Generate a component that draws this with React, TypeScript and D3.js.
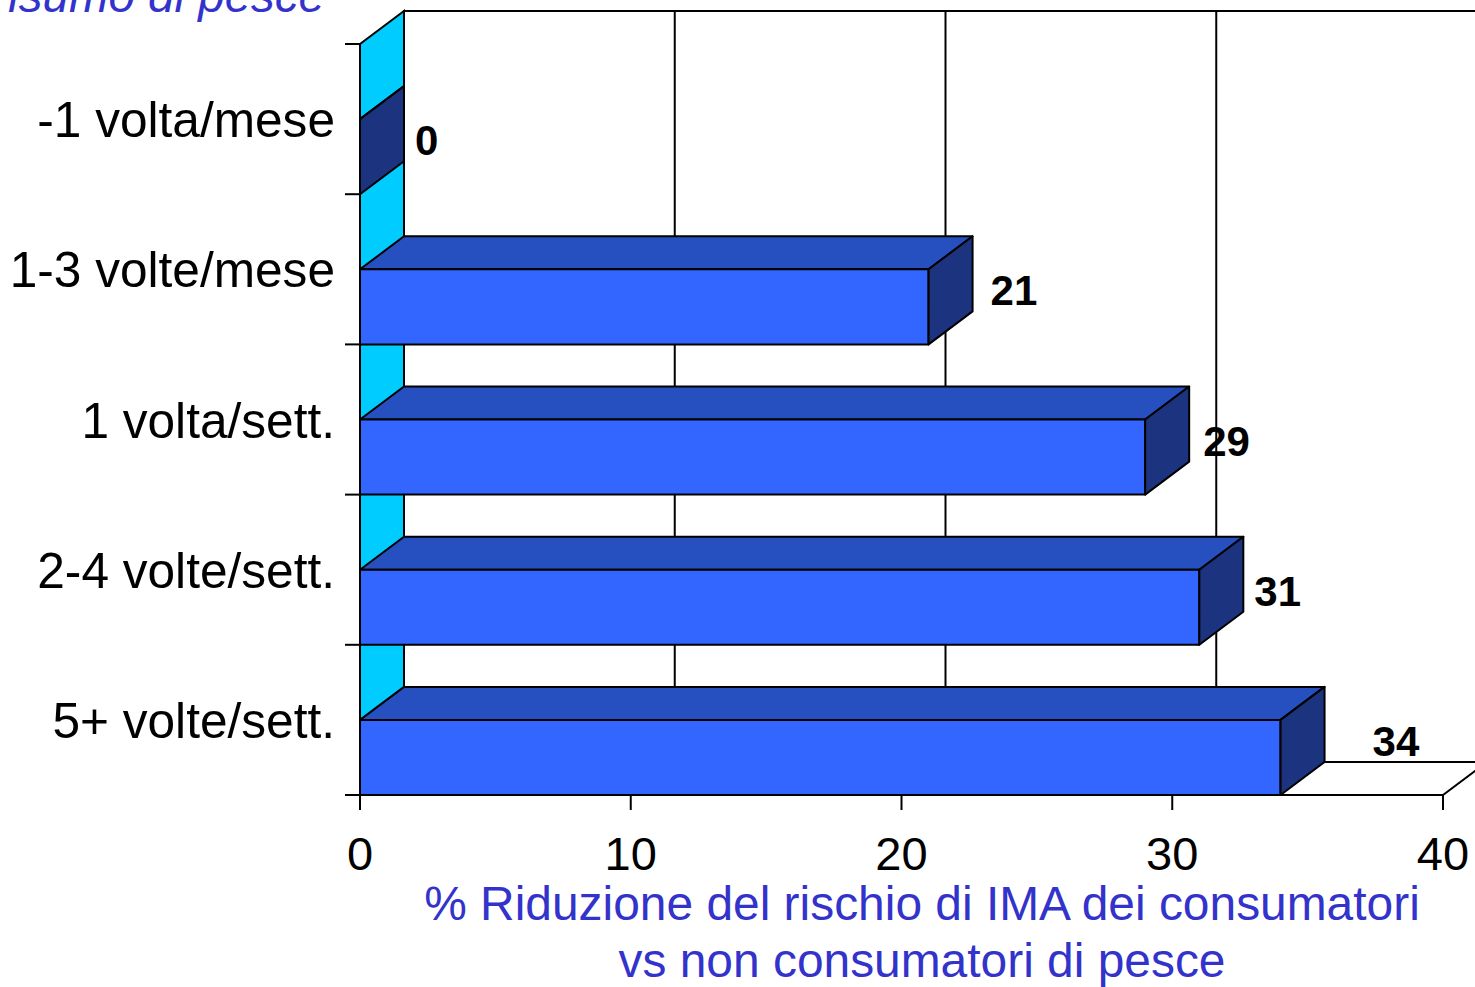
import React from "react";
import * as d3 from "d3";

const categories = ["-1 volta/mese", "1-3 volte/mese", "1 volta/sett.", "2-4 volte/sett.", "5+ volte/sett."];
const values = [0, 21, 29, 31, 34];
const xTicks = [0, 10, 20, 30, 40];
const labelNudge = [-2, 5, 1, -2, 35];
const axisTitle = ["% Riduzione del rischio di IMA dei consumatori", "vs non consumatori di pesce"];
const yTitle = "Consumo di pesce";

const W = 1475, H = 987;
const DX = 44, DY = 33;
const FRONT = "#3366FF", TOP = "#264FBF", SIDE = "#1C3380", WALL = "#00CCFF";
const BLUE_TEXT = "#3333CC";
const FONT = "'Liberation Sans', Arial, sans-serif";

export default function App() {
  const x = d3.scaleLinear().domain([0, 40]).range([360, 1443]);
  const y = d3.scaleBand<string>().domain(categories).range([44, 795]).paddingInner(0).paddingOuter(0);
  const bw = y.bandwidth();
  const x0 = x(0), x1 = x(40);
  const yTop = 44, yBot = 795;
  const pts = (a: number[][]) => a.map((p) => p.join(",")).join(" ");

  return (
    <svg width={W} height={H} style={{ position: "absolute", left: 0, top: 0, background: "#fff" }}>
      {/* back wall */}
      <rect x={x0 + DX} y={yTop - DY} width={x1 - x0} height={yBot - yTop} fill="#fff" stroke="#000" strokeWidth={2} />
      {xTicks.slice(1, -1).map((t) => (
        <line key={t} x1={x(t) + DX} x2={x(t) + DX} y1={yTop - DY} y2={yBot - DY} stroke="#000" strokeWidth={2} />
      ))}
      {/* floor */}
      <polygon points={pts([[x0, yBot], [x1, yBot], [x1 + DX, yBot - DY], [x0 + DX, yBot - DY]])} fill="#fff" stroke="#000" strokeWidth={2} />
      {/* left wall */}
      <polygon points={pts([[x0, yTop], [x0 + DX, yTop - DY], [x0 + DX, yBot - DY], [x0, yBot]])} fill={WALL} stroke="#000" strokeWidth={2} />
      {/* bars */}
      {categories.map((c, i) => {
        const b = (y(c) as number) + bw;
        const t = b - bw / 2;
        const xe = x(values[i]);
        return (
          <g key={c} stroke="#000" strokeWidth={2} strokeLinejoin="round">
            <polygon points={pts([[x0, t], [xe, t], [xe + DX, t - DY], [x0 + DX, t - DY]])} fill={TOP} />
            <rect x={x0} y={t} width={xe - x0} height={b - t} fill={FRONT} />
            <polygon points={pts([[xe, t], [xe + DX, t - DY], [xe + DX, b - DY], [xe, b]])} fill={SIDE} />
          </g>
        );
      })}
      {/* value labels */}
      {categories.map((c, i) => {
        const b = (y(c) as number) + bw;
        const t = b - bw / 2;
        const mx = x(values[i]) + DX / 2;
        const my = (t + b) / 2 - DY / 2;
        return (
          <text key={c} x={mx + 35 + labelNudge[i]} y={my + 15} fontFamily={FONT} fontWeight="bold" fontSize={42} fill="#000">
            {values[i]}
          </text>
        );
      })}
      {/* y axis ticks */}
      {categories.map((c) => (
        <line key={c} x1={x0 - 15} x2={x0} y1={y(c) as number} y2={y(c) as number} stroke="#000" strokeWidth={2} />
      ))}
      <line x1={x0 - 15} x2={x0} y1={yBot} y2={yBot} stroke="#000" strokeWidth={2} />
      {/* x axis ticks */}
      {xTicks.map((t) => (
        <line key={t} x1={x(t)} x2={x(t)} y1={yBot} y2={yBot + 15} stroke="#000" strokeWidth={2} />
      ))}
      {xTicks.map((t) => (
        <text key={t} x={x(t)} y={870} textAnchor="middle" fontFamily={FONT} fontSize={47} fill="#000">
          {t}
        </text>
      ))}
      {/* category labels */}
      {categories.map((c) => (
        <text key={c} x={335} y={(y(c) as number) + bw / 2 + 18} textAnchor="end" fontFamily={FONT} fontSize={49.6} fill="#000">
          {c}
        </text>
      ))}
      {/* axis title */}
      {axisTitle.map((s, i) => (
        <text key={s} x={922} y={920 + i * 57} textAnchor="middle" fontFamily={FONT} fontSize={47.9} fill={BLUE_TEXT}>
          {s}
        </text>
      ))}
      <text x={325} y={12} textAnchor="end" fontFamily={FONT} fontStyle="italic" fontSize={47.5} fill={BLUE_TEXT}>
        {yTitle}
      </text>
    </svg>
  );
}
